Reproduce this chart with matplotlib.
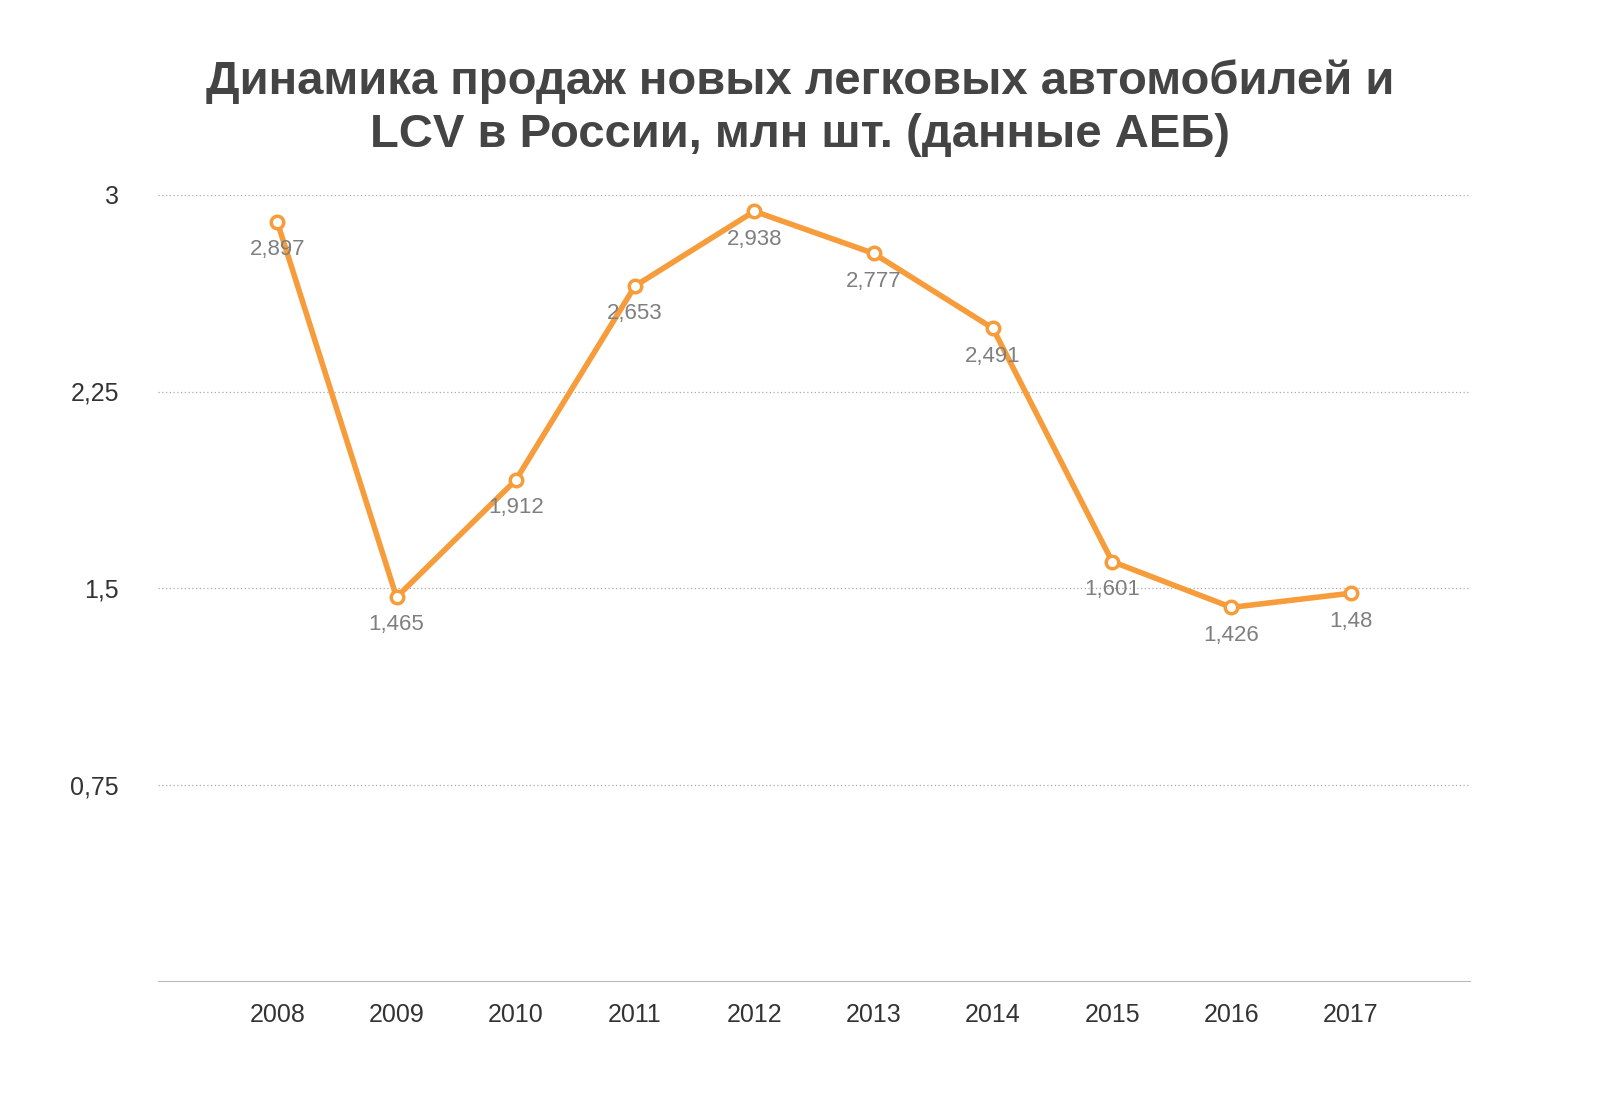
import matplotlib
matplotlib.use("Agg")
import matplotlib.pyplot as plt

years = ["2008","2009","2010","2011","2012","2013","2014","2015","2016","2017"]
sales = [2.897,1.465,1.912,2.653,2.938,2.777,2.491,1.601,1.426,1.48]
labels = ["2,897","1,465","1,912","2,653","2,938","2,777","2,491","1,601","1,426","1,48"]
yticks = [0.75,1.5,2.25,3]
yticklabels = ["0,75","1,5","2,25","3"]

plt.rcParams["font.family"] = ["Liberation Sans","DejaVu Sans"]
fig = plt.figure(figsize=(16,11.11), dpi=100)
ax = fig.add_axes([158/1600, 1-981/1111, (1470-158)/1600, (981-195)/1111])
x = list(range(len(years)))
ax.plot(x, sales, color="#f79c3a", lw=4, marker="o", ms=9, mfc="white", mec="#f79c3a", mew=2.5, zorder=3)
for xi, v, l in zip(x, sales, labels):
    ax.annotate(l, (xi, v), xytext=(0, -20), textcoords="offset points", ha="center", va="center",
                fontsize=16, color="#7f7f7f")
ax.set_xlim(-1, 10)
ax.set_ylim(0, 3)
ax.set_xticks(x)
ax.set_xticklabels(years, fontsize=18, color="#333333")
ax.set_yticks(yticks)
ax.set_yticklabels(yticklabels, fontsize=18, color="#333333")
ax.tick_params(length=0, pad=16)
ax.tick_params(axis="y", pad=28)
for s in ["top","right","left"]:
    ax.spines[s].set_visible(False)
ax.spines["bottom"].set_color("#bbbbbb")
ax.grid(axis="y", linestyle=(0,(1,2)), color="#aaaaaa", lw=0.9)
ax.set_axisbelow(True)
fig.text(0.5, 1-108/1111, "Динамика продаж новых легковых автомобилей и\nLCV в России, млн шт. (данные АЕБ)",
         ha="center", va="center", fontsize=34, fontweight="bold", color="#444444", linespacing=1.25)
fig.savefig("out.png", dpi=100, facecolor="white")
